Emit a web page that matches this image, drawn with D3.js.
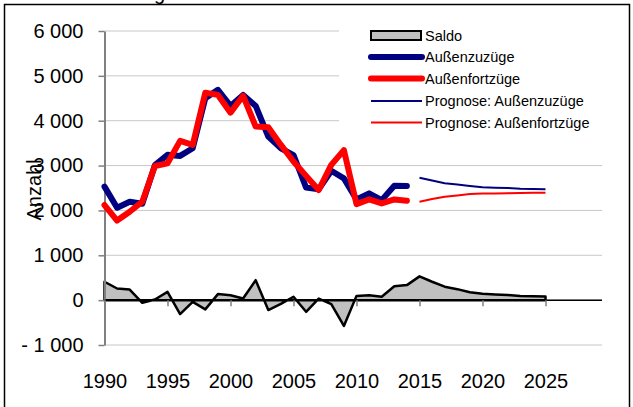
<!DOCTYPE html>
<html>
<head>
<meta charset="utf-8">
<script src="https://cdn.jsdelivr.net/npm/d3@7/dist/d3.min.js"></script>
<style>
  html, body { margin: 0; padding: 0; background: #fff; }
  svg { display: block; font-family: "Liberation Sans", Arial, sans-serif; }
</style>
</head>
<body>
<svg id="chart" width="633" height="407"></svg>
<script>
// ---- data ----
const histYears = d3.range(1990, 2015);
const progYears = d3.range(2015, 2026);
const allYears = d3.range(1990, 2026);

const aussenzuzuege = [2530, 2060, 2195, 2150, 3010, 3240, 3215, 3385, 4500, 4690, 4330, 4575, 4330, 3645, 3385, 3235, 2510, 2470, 2885, 2715, 2245, 2380, 2230, 2550, 2545];
const aussenfortzuege = [2120, 1775, 1970, 2195, 2990, 3050, 3550, 3460, 4625, 4575, 4180, 4555, 3870, 3855, 3460, 3090, 2770, 2455, 3015, 3345, 2140, 2245, 2155, 2245, 2215];
const progZuzuege = [2730, 2665, 2605, 2580, 2545, 2515, 2505, 2500, 2485, 2480, 2470];
const progFortzuege = [2195, 2255, 2305, 2335, 2365, 2375, 2380, 2385, 2390, 2395, 2395];
const saldo = [410, 260, 235, -60, 15, 185, -310, -40, -205, 135, 110, 35, 445, -220, -85, 75, -260, 35, -90, -575, 95, 110, 75, 310, 335,
               530, 410, 300, 245, 175, 140, 125, 115, 95, 85, 80];

const yTicks = [-1000, 0, 1000, 2000, 3000, 4000, 5000, 6000];
const xTicks = [1990, 1995, 2000, 2005, 2010, 2015, 2020, 2025];
const legendLabels = ["Saldo", "Außenzuzüge", "Außenfortzüge", "Prognose: Außenzuzüge", "Prognose: Außenfortzüge"];
const titleText = "Außenwanderung";
const yTitle = "Anzahl";

// ---- layout ----
const svg = d3.select("#chart");
const plotLeft = 104.5, plotRight = 602, plotTop = 31, plotBottom = 345;
const x = d3.scaleLinear().domain([1990, 2025]).range([plotLeft, 545.5]);
const y = d3.scaleLinear().domain([-1000, 6000]).range([plotBottom, plotTop]);

// frame
svg.append("rect").attr("x", 4.5).attr("y", 4.5).attr("width", 625).attr("height", 420)
  .attr("fill", "#fff").attr("stroke", "#000").attr("stroke-width", 1.5);

// partially visible title (cut off at the top, as in the reference)
svg.append("text").attr("x", 165).attr("y", 0).attr("text-anchor", "end")
  .attr("font-size", 20).attr("fill", "#000").text(titleText);

// gridlines
svg.append("g").selectAll("line").data(yTicks).join("line")
  .attr("x1", plotLeft).attr("x2", plotRight)
  .attr("y1", d => y(d)).attr("y2", d => y(d))
  .attr("stroke", "#c8c8c8").attr("stroke-width", 1);

// saldo area
const area = d3.area().x((d, i) => x(allYears[i])).y0(y(0)).y1(d => y(d));
svg.append("path").datum(saldo).attr("d", area)
  .attr("fill", "#c0c0c0").attr("stroke", "#000").attr("stroke-width", 2.5)
  .attr("stroke-linejoin", "round");

// y axis
const fmt = v => v === 0 ? "0" : (v < 0 ? "- " : "") + d3.format(",")(Math.abs(v)).replace(/,/g, " ");
const yAxis = svg.append("g").attr("transform", `translate(${plotLeft},0)`)
  .call(d3.axisLeft(y).tickValues(yTicks).tickFormat(fmt).tickSize(6).tickPadding(15).tickSizeOuter(0));
yAxis.select(".domain").attr("stroke", "#808080").attr("stroke-width", 2);
yAxis.selectAll(".tick line").attr("stroke", "#808080").attr("stroke-width", 1.5);
yAxis.selectAll("text").attr("font-size", 20).attr("font-family", "Liberation Sans, Arial, sans-serif").attr("fill", "#000");

// x axis at zero
const xAxis = svg.append("g").attr("transform", `translate(0,${y(0)})`)
  .call(d3.axisBottom(x).tickValues(xTicks).tickFormat(d3.format("d")).tickSize(6).tickPadding(68).tickSizeOuter(0));
xAxis.select(".domain").attr("d", `M${plotLeft},0H${plotRight}`).attr("stroke", "#000").attr("stroke-width", 1.5);
xAxis.selectAll(".tick line").attr("stroke", "#808080").attr("stroke-width", 1.5);
xAxis.selectAll("text").attr("font-size", 20).attr("font-family", "Liberation Sans, Arial, sans-serif").attr("fill", "#000");

// lines
const line = (yrs) => d3.line().x((d, i) => x(yrs[i])).y(d => y(d));
svg.append("path").datum(aussenzuzuege).attr("d", line(histYears))
  .attr("fill", "none").attr("stroke", "#000080").attr("stroke-width", 6)
  .attr("stroke-linejoin", "round").attr("stroke-linecap", "round");
svg.append("path").datum(aussenfortzuege).attr("d", line(histYears))
  .attr("fill", "none").attr("stroke", "#ff0000").attr("stroke-width", 6)
  .attr("stroke-linejoin", "round").attr("stroke-linecap", "round");
svg.append("path").datum(progZuzuege).attr("d", line(progYears))
  .attr("fill", "none").attr("stroke", "#000080").attr("stroke-width", 2);
svg.append("path").datum(progFortzuege).attr("d", line(progYears))
  .attr("fill", "none").attr("stroke", "#ff0000").attr("stroke-width", 2);

// y title
svg.append("text").attr("transform", "translate(41,190) rotate(-90)")
  .attr("text-anchor", "middle").attr("font-size", 20).attr("fill", "#000").text(yTitle);

// legend
const lg = svg.append("g");
lg.append("rect").attr("x", 339).attr("y", 18).attr("width", 286).attr("height", 118).attr("fill", "#fff");
const rowY = [35.5, 57, 78.5, 101, 122.5];
const styles = [
  null,
  { c: "#000080", w: 6 },
  { c: "#ff0000", w: 6 },
  { c: "#000080", w: 2 },
  { c: "#ff0000", w: 2 }
];
legendLabels.forEach((lab, i) => {
  if (i === 0) {
    lg.append("rect").attr("x", 371).attr("y", rowY[i] - 4.5).attr("width", 50).attr("height", 9)
      .attr("fill", "#c0c0c0").attr("stroke", "#000").attr("stroke-width", 2);
  } else {
    lg.append("line").attr("x1", 371).attr("x2", 422).attr("y1", rowY[i]).attr("y2", rowY[i])
      .attr("stroke", styles[i].c).attr("stroke-width", styles[i].w).attr("stroke-linecap", styles[i].w > 3 ? "round" : "butt");
  }
  lg.append("text").attr("x", 425).attr("y", rowY[i]).attr("dy", "0.35em")
    .attr("font-size", 14.5).attr("fill", "#000").text(lab);
});
</script>
</body>
</html>
